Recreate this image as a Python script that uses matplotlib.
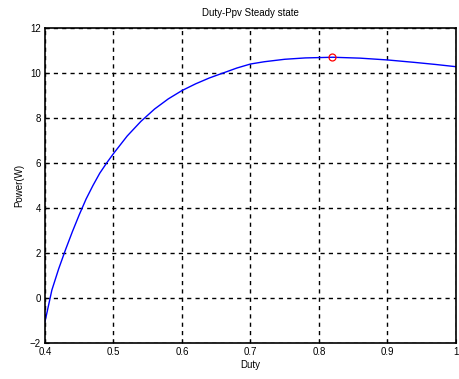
import numpy as np
import matplotlib
matplotlib.use("Agg")
import matplotlib.pyplot as plt

plt.rcParams['font.family'] = ['Liberation Sans', 'DejaVu Sans']

duty = [0.40, 0.405, 0.41, 0.42, 0.43, 0.44, 0.45, 0.46, 0.47, 0.48, 0.49,
        0.50, 0.52, 0.54, 0.56, 0.58, 0.60, 0.62, 0.64, 0.66, 0.68,
        0.70, 0.72, 0.75, 0.78, 0.82, 0.86, 0.90, 0.94, 0.97, 1.00]
power = [-1.05, -0.35, 0.35, 1.3, 2.15, 2.95, 3.7, 4.4, 5.0, 5.55, 6.0,
         6.42, 7.2, 7.85, 8.4, 8.85, 9.22, 9.52, 9.78, 10.0, 10.22,
         10.4, 10.5, 10.61, 10.67, 10.70, 10.66, 10.58, 10.47, 10.38, 10.28]
mpp_duty = [0.819]
mpp_power = [10.70]

fig = plt.figure(figsize=(4.6, 3.79), dpi=100)
ax = fig.add_axes([45/460, 36/379, 411/460, 315/379])

ax.plot(duty, power, color='blue', lw=1.0)
ax.plot(mpp_duty, mpp_power, 'o', mfc='none', mec='red', ms=5, mew=0.9)

ax.set_xlim(0.4, 1.0)
ax.set_ylim(-2, 12)
ax.set_xticks([0.4, 0.5, 0.6, 0.7, 0.8, 0.9, 1.0])
ax.set_xticklabels(['0.4', '0.5', '0.6', '0.7', '0.8', '0.9', '1'])
ax.set_yticks(range(-2, 13, 2))
ax.tick_params(direction='in', length=3, labelsize=7, pad=3)
ax.grid(True, color='black', linestyle=(0, (3, 3)), linewidth=1.0)
for s in ax.spines.values():
    s.set_linewidth(1.2)

ax.set_xlabel('Duty', fontsize=7, labelpad=2)
ax.set_ylabel('Power(W)', fontsize=7, labelpad=4)
ax.set_title('Duty-Ppv Steady state', fontsize=7, pad=9)

fig.savefig('out.png', dpi=100)
